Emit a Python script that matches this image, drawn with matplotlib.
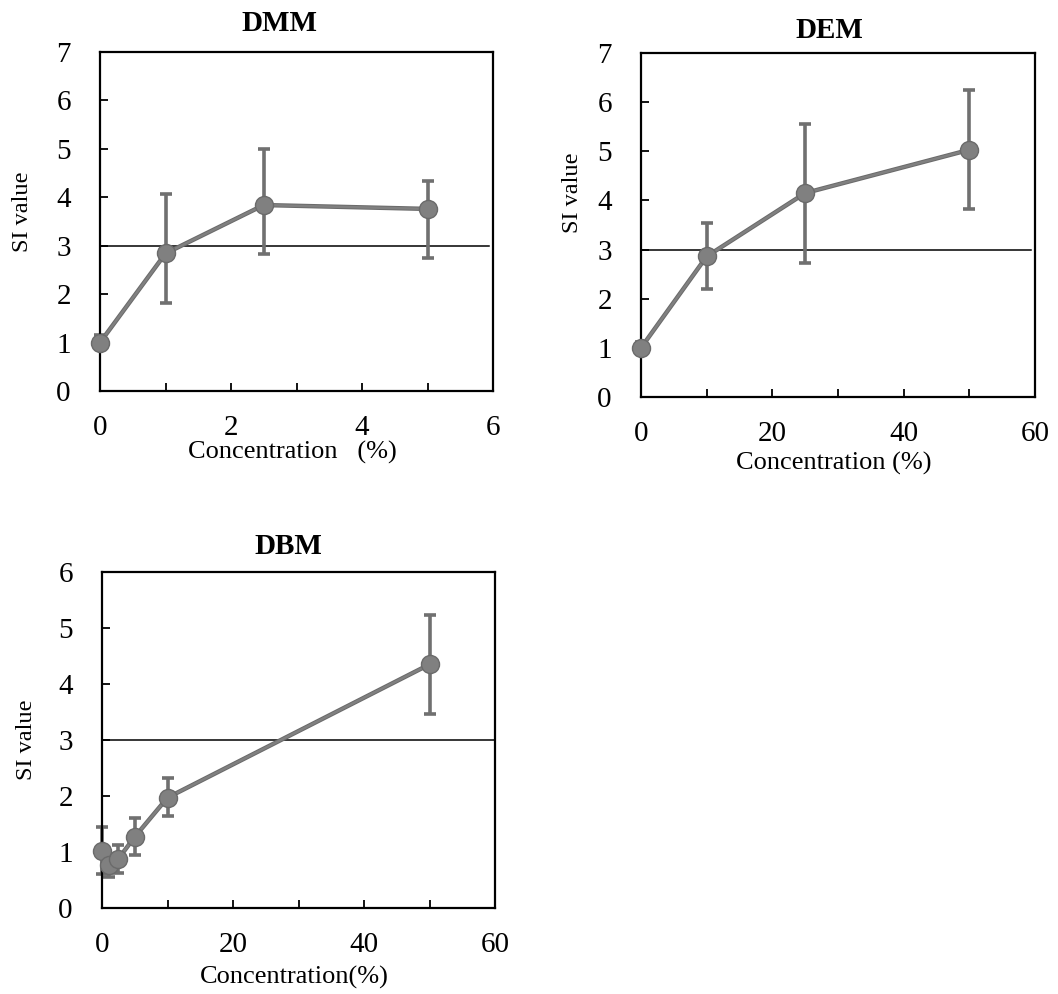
import matplotlib
matplotlib.use("Agg")
import matplotlib.pyplot as plt
from matplotlib.ticker import FixedLocator

# ---------------- data ----------------
dmm_conc = [0, 1, 2.5, 5]
dmm_si = [1.0, 2.84, 3.84, 3.76]
dmm_err_low = [0.12, 1.03, 1.02, 1.01]
dmm_err_high = [0.15, 1.22, 1.16, 0.58]

dem_conc = [0, 10, 25, 50]
dem_si = [1.0, 2.86, 4.15, 5.03]
dem_err_low = [0.12, 0.67, 1.43, 1.21]
dem_err_high = [0.12, 0.69, 1.40, 1.22]

dbm_conc = [0, 1, 2.5, 5, 10, 50]
dbm_si = [1.02, 0.76, 0.88, 1.27, 1.97, 4.35]
dbm_err_low = [0.42, 0.2, 0.25, 0.33, 0.32, 0.89]
dbm_err_high = [0.42, 0.2, 0.25, 0.33, 0.35, 0.88]

threshold = 3

plt.rcParams['font.family'] = ['Liberation Serif', 'DejaVu Serif']

W, H = 1058, 994
fig = plt.figure(figsize=(W / 100, H / 100), dpi=100)


def px_axes(left, right, top, bottom):
    return fig.add_axes([left / W, 1 - bottom / H, (right - left) / W, (bottom - top) / H])


mcol = '#808080'


def draw(ax, x, y, elow, ehigh, title, xlabel, xmax, xmajor, xminor, ymax,
         title_x, title_pad, ylab_xy, xlab_xy, hline_xmax):
    ax.axhline(threshold, color='black', lw=1.1, xmin=0, xmax=hline_xmax, zorder=1)
    ax.errorbar(x, y, yerr=[elow, ehigh], fmt='none', ecolor='#707070', elinewidth=2.6,
                capsize=4.5, capthick=2.6, zorder=2, clip_on=False)
    ax.plot(x, y, '-', color='#6a6a6a', lw=3.2, zorder=3, clip_on=False)
    ax.plot(x, y, '-', color=mcol, lw=1.8, zorder=3, clip_on=False)
    ax.plot(x, y, 'o', ms=13, mfc=mcol, mec='#6a6a6a', mew=1.0, zorder=4, clip_on=False)
    ax.set_xlim(0, xmax)
    ax.set_ylim(0, ymax)
    ax.xaxis.set_major_locator(FixedLocator(xmajor))
    ax.xaxis.set_minor_locator(FixedLocator(xminor))
    ax.yaxis.set_major_locator(FixedLocator(list(range(0, ymax + 1))))
    ax.tick_params(axis='both', which='both', direction='in', length=6, width=1.3,
                   top=False, right=False, labelsize=21)
    ax.tick_params(axis='x', which='both', pad=17)
    ax.tick_params(axis='y', which='both', pad=21)
    for s in ax.spines.values():
        s.set_linewidth(1.6)
    ax.set_title(title, fontsize=21, fontweight='bold', x=title_x, pad=title_pad)
    ax.set_ylabel('SI value', fontsize=17.5)
    ax.yaxis.set_label_coords(*ylab_xy)
    ax.set_xlabel(xlabel, fontsize=19)
    ax.xaxis.set_label_coords(*xlab_xy)


ax1 = px_axes(100, 493, 52, 391)
draw(ax1, dmm_conc, dmm_si, dmm_err_low, dmm_err_high, 'DMM', 'Concentration   (%)', 6,
     [0, 2, 4, 6], [1, 3, 5], 7, 0.457, 15, (-0.17, 0.528), (0.49, -0.147), 0.99)

ax2 = px_axes(641, 1035, 53, 397)
draw(ax2, dem_conc, dem_si, dem_err_low, dem_err_high, 'DEM', 'Concentration (%)', 60,
     [0, 20, 40, 60], [10, 30, 50], 7, 0.477, 11, (-0.147, 0.593), (0.489, -0.16), 0.99)

ax3 = px_axes(102, 495, 572, 908)
draw(ax3, dbm_conc, dbm_si, dbm_err_low, dbm_err_high, 'DBM', 'Concentration(%)', 60,
     [0, 20, 40, 60], [10, 30, 50], 6, 0.473, 13, (-0.165, 0.5), (0.489, -0.172), 1.0)

fig.savefig('out.png', dpi=100)
